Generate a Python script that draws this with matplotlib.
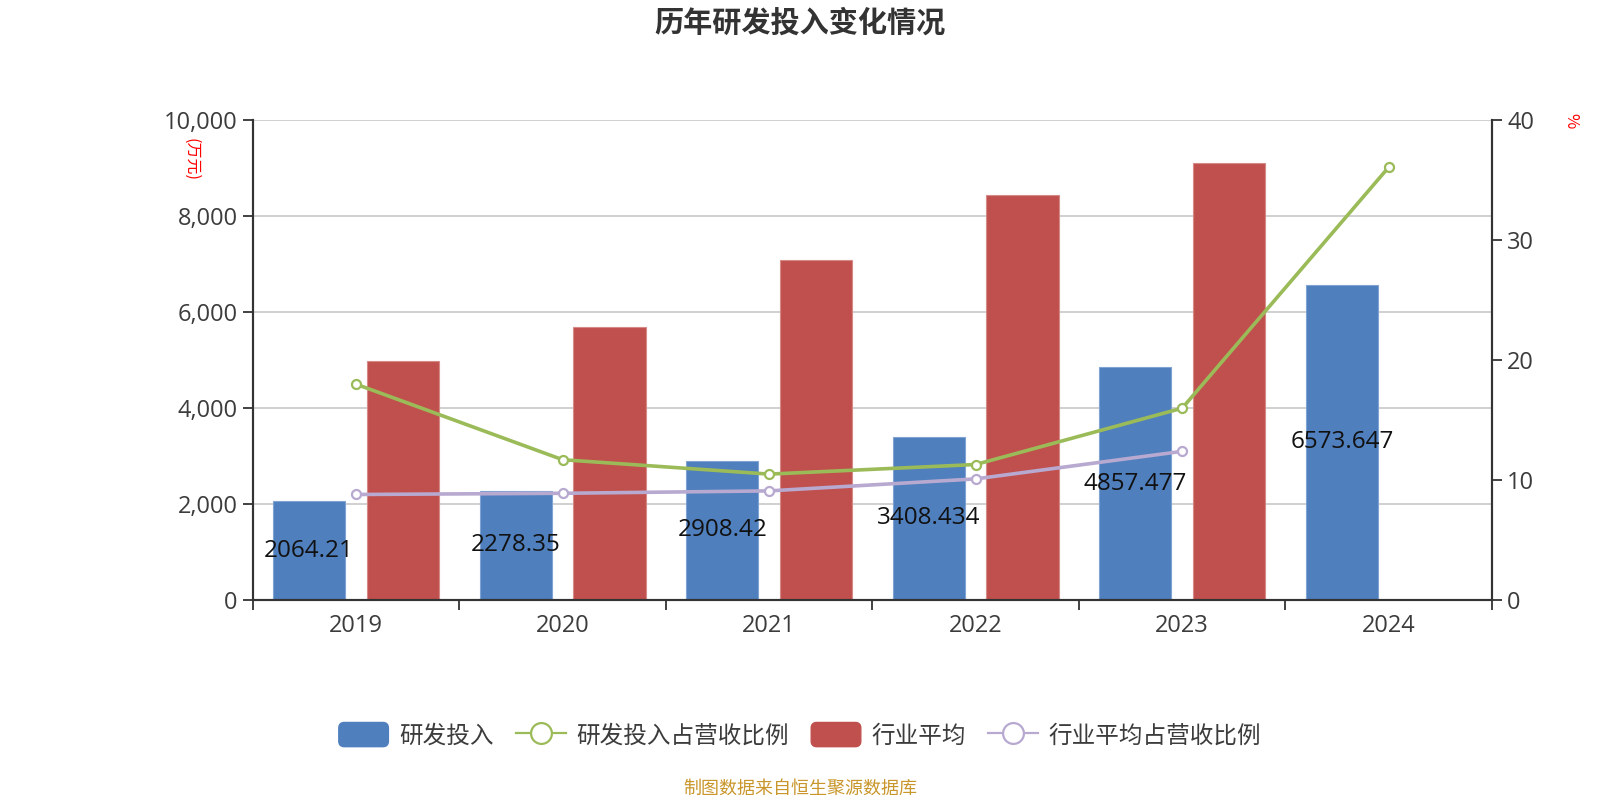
import numpy as np
import matplotlib
matplotlib.use("Agg")
import matplotlib.pyplot as plt
from matplotlib.patches import FancyBboxPatch, Patch
from matplotlib.lines import Line2D
from matplotlib.legend_handler import HandlerPatch

plt.rcParams['font.family'] = ['Open Sans', 'Noto Sans CJK SC', 'DejaVu Sans']

years = ['2019', '2020', '2021', '2022', '2023', '2024']
rd_invest = [2064.21, 2278.35, 2908.42, 3408.434, 4857.477, 6573.647]
industry_avg = [4980, 5700, 7090, 8450, 9110, np.nan]
rd_ratio = [18.0, 11.7, 10.5, 11.3, 16.0, 36.1]
industry_ratio = [8.8, 8.9, 9.1, 10.1, 12.4, np.nan]
rd_labels = ['2064.21', '2278.35', '2908.42', '3408.434', '4857.477', '6573.647']

C_BLUE = '#4F7FBD'
C_RED = '#C0504D'
C_GREEN = '#9BBB59'
C_PURPLE = '#B7A9D0'
C_AX = '#333333'
C_TXT = '#3C3C3C'
CJK = ['Noto Sans CJK SC', 'DejaVu Sans']

fig = plt.figure(figsize=(16, 8), dpi=100)
ax = fig.add_axes([0.158, 0.25, 0.7745, 0.5995])
ax2 = ax.twinx()

x = np.arange(len(years))
bw = 0.35
off = 0.227
ax.bar(x - off, rd_invest, bw, color=C_BLUE, edgecolor='#7FA3D3', linewidth=0.8, zorder=2)
ax.bar(x + off, industry_avg, bw, color=C_RED, edgecolor='#D68A88', linewidth=0.8, zorder=2)

for xi, v, lab in zip(x, rd_invest, rd_labels):
    ax.text(xi - off, v / 2, lab, ha='center', va='center', fontsize=17.5, color='#111111', zorder=5)

ax2.plot(x, rd_ratio, color=C_GREEN, lw=2.6, marker='o', ms=6.5, mfc='white', mec=C_GREEN, mew=1.6, zorder=4)
ax2.plot(x, industry_ratio, color=C_PURPLE, lw=2.6, marker='o', ms=6.5, mfc='white', mec=C_PURPLE, mew=1.6, zorder=4)

ax.set_xlim(-0.5, len(years) - 0.5)
ax.set_ylim(0, 10000)
ax2.set_ylim(0, 40)
ax.set_yticks(np.arange(0, 10001, 2000))
ax.set_yticklabels([f'{v:,}' for v in range(0, 10001, 2000)])
ax2.set_yticks(np.arange(0, 41, 10))

ax.grid(axis='y', color='#C8C8C8', lw=1.2, zorder=0)
ax.set_axisbelow(True)

ax.set_xticks(x)
ax.set_xticklabels(years)
ax.set_xticks(np.arange(-0.5, len(years)), minor=True)
ax.tick_params(axis='x', which='major', length=0, pad=10, labelsize=17, labelcolor=C_TXT)
ax.tick_params(axis='x', which='minor', length=7, width=1.3, color=C_AX)
ax.tick_params(axis='y', length=7, width=1.3, color=C_AX, labelsize=17, labelcolor=C_TXT, pad=4)
ax2.tick_params(axis='y', length=7, width=1.3, color=C_AX, labelsize=17, labelcolor=C_TXT, pad=4)

for a in (ax, ax2):
    a.spines['top'].set_visible(False)
    for s in ('left', 'right', 'bottom'):
        a.spines[s].set_color(C_AX)
        a.spines[s].set_linewidth(1.5)

# unit labels
fig.text(191 / 1600, 1 - 159 / 800, '(万元)', color='red', fontsize=11.5, rotation=-90,
         ha='center', va='center', family=CJK)
fig.text(1571 / 1600, 1 - 121 / 800, '%', color='red', fontsize=12, rotation=-90,
         ha='center', va='center', family=CJK)

# title
fig.text(0.5, 1 - 23 / 800, '历年研发投入变化情况', ha='center', va='center', fontsize=21,
         fontweight='bold', color='#333333', family=CJK)

# legend
def round_patch(legend, orig_handle, xdescent, ydescent, width, height, fontsize):
    return FancyBboxPatch((-xdescent, -ydescent), width, height,
                          boxstyle='round,pad=0,rounding_size=4')

handles = [
    Patch(facecolor=C_BLUE, edgecolor=C_BLUE),
    Line2D([], [], color=C_GREEN, lw=1.6, marker='o', ms=15, mfc='white', mec=C_GREEN, mew=1.6),
    Patch(facecolor=C_RED, edgecolor=C_RED),
    Line2D([], [], color=C_PURPLE, lw=1.6, marker='o', ms=15, mfc='white', mec=C_PURPLE, mew=1.6),
]
labels = ['研发投入', '研发投入占营收比例', '行业平均', '行业平均占营收比例']
leg = fig.legend(handles, labels, loc='center', bbox_to_anchor=(0.5, 1 - 735 / 800), ncol=4,
                 frameon=False, prop={'family': CJK, 'size': 17}, handlelength=2.1, handleheight=1.2,
                 handletextpad=0.45, columnspacing=0.95,
                 handler_map={Patch: HandlerPatch(patch_func=round_patch)})
for t in leg.get_texts():
    t.set_color(C_TXT)

fig.text(0.5, 1 - 789 / 800, '制图数据来自恒生聚源数据库', ha='center', va='center', fontsize=13,
         color='#C9962B', family=CJK)

fig.savefig('out.png', dpi=100)
